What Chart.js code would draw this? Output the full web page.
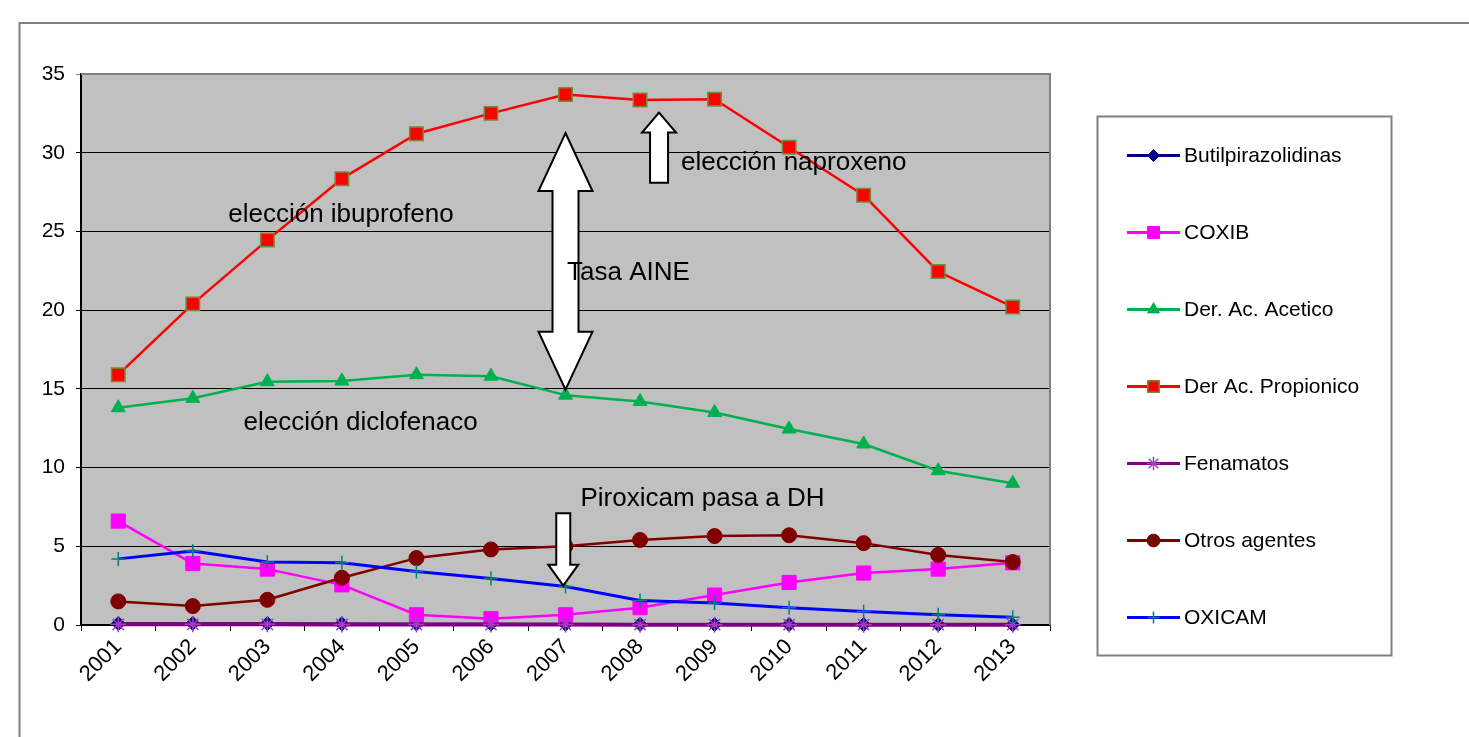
<!DOCTYPE html>
<html>
<head>
<meta charset="utf-8">
<title>Consumo de AINE por subgrupo 2001-2013</title>
<script src="https://cdn.jsdelivr.net/npm/chart.js@4.4.1/dist/chart.umd.min.js"></script>
<style>
  html, body { margin: 0; padding: 0; background: #ffffff; }
  #wrap { width: 1469px; height: 737px; position: relative; }
  canvas { display: block; }
</style>
</head>
<body>
<div id="wrap"><canvas id="chart" width="1469" height="737"></canvas></div>
<script>
// Years on the category axis
const years = ['2001','2002','2003','2004','2005','2006','2007','2008','2009','2010','2011','2012','2013'];

// Series values per year
const butilpirazolidinas = [0.09, 0.10, 0.09, 0.08, 0.07, 0.06, 0.05, 0.04, 0.03, 0.03, 0.03, 0.02, 0.02];
const coxib             = [6.6, 3.9, 3.55, 2.55, 0.65, 0.4, 0.65, 1.1, 1.9, 2.7, 3.3, 3.55, 3.95];
const derAcAcetico      = [13.8, 14.4, 15.45, 15.5, 15.9, 15.8, 14.6, 14.2, 13.5, 12.45, 11.5, 9.8, 9.0];
const derAcPropionico   = [15.9, 20.4, 24.45, 28.35, 31.2, 32.5, 33.7, 33.35, 33.4, 30.35, 27.3, 22.45, 20.2];
const fenamatos         = [0.04, 0.04, 0.04, 0.03, 0.03, 0.03, 0.03, 0.02, 0.02, 0.02, 0.02, 0.02, 0.02];
const otrosAgentes      = [1.5, 1.2, 1.6, 3.0, 4.25, 4.8, 5.0, 5.4, 5.65, 5.7, 5.2, 4.45, 4.0];
const oxicam            = [4.2, 4.7, 4.0, 3.95, 3.4, 2.95, 2.45, 1.55, 1.4, 1.1, 0.85, 0.65, 0.5];

// Value axis ticks
const yTicks = [0, 5, 10, 15, 20, 25, 30, 35];

// Annotation texts, anchored in data units (x = category index, y = value)
const notes = [
  { text: 'elección ibuprofeno',  x: 1.475, y: 26.05 },
  { text: 'elección diclofenaco', x: 1.68,  y: 12.85 },
  { text: 'Tasa AINE',            x: 6.02,  y: 22.35 },
  { text: 'elección naproxeno',   x: 7.55,  y: 29.35 },
  { text: 'Piroxicam pasa a DH',  x: 6.2,   y: 8.0 }
];

// Block arrows, anchored in data units: tail and tip values on a category position
const arrows = [
  { x: 6.0,   from: 14.95, to: 31.25, double: true,  head: 27, headLen: 58, shaft: 13 },
  { x: 7.255, from: 28.1,  to: 32.55, double: false, head: 17, headLen: 20, shaft: 9 },
  { x: 5.97,  from: 7.1,   to: 2.5,   double: false, head: 15, headLen: 21, shaft: 7 }
];

const FONT = "'Liberation Sans', Arial, Helvetica, sans-serif";

const series = [
  { label: 'Butilpirazolidinas', data: butilpirazolidinas, color: '#000080', pColor: '#000080', pBorder: '#000080', style: 'rectRot', r: 7, bw: 1, lw: 2.5 },
  { label: 'COXIB',              data: coxib,              color: '#FF00FF', pColor: '#FF00FF', pBorder: '#FF00FF', style: 'rect', r: 10, bw: 1, lw: 2.5 },
  { label: 'Der. Ac. Acetico',   data: derAcAcetico,       color: '#00B050', pColor: '#00B050', pBorder: '#00B050', style: 'triangle', r: 8, bw: 1, lw: 2.5 },
  { label: 'Der Ac. Propionico', data: derAcPropionico,    color: '#FF0000', pColor: '#FF0000', pBorder: '#6B8E3A', style: 'rect', r: 9.5, bw: 1.5, lw: 2.5 },
  { label: 'Fenamatos',          data: fenamatos,          color: '#800080', pColor: '#A040C0', pBorder: '#A040C0', style: 'star', r: 8, bw: 1.5, lw: 4 },
  { label: 'Otros agentes',      data: otrosAgentes,       color: '#800000', pColor: '#800000', pBorder: '#800000', style: 'circle', r: 7.5, bw: 1, lw: 2.5 },
  { label: 'OXICAM',             data: oxicam,             color: '#0000FF', pColor: '#008080', pBorder: '#008080', style: 'cross', r: 7, bw: 1.5, lw: 3 }
];

const datasets = series.map((s, i) => ({
  label: s.label,
  data: s.data,
  borderColor: s.color,
  backgroundColor: s.color,
  borderWidth: s.lw,
  pointStyle: s.style,
  pointRadius: s.r,
  pointHoverRadius: s.r,
  pointBackgroundColor: s.pColor,
  pointBorderColor: s.pBorder,
  pointBorderWidth: s.bw,
  tension: 0,
  fill: false,
  clip: false,
  order: series.length - i
}));

// Page frame, grey plot background and plot border
const backdrop = {
  id: 'backdrop',
  beforeDraw(chart) {
    const { ctx, chartArea: a } = chart;
    ctx.save();
    ctx.fillStyle = '#ffffff';
    ctx.fillRect(0, 0, chart.width, chart.height);
    ctx.strokeStyle = '#808080';
    ctx.lineWidth = 2;
    ctx.beginPath();
    ctx.moveTo(19.5, chart.height);
    ctx.lineTo(19.5, 23);
    ctx.lineTo(chart.width, 23);
    ctx.stroke();
    ctx.fillStyle = '#C0C0C0';
    ctx.fillRect(a.left, a.top, a.right - a.left, a.bottom - a.top);
    ctx.restore();
  },
  beforeDatasetsDraw(chart) {
    const { ctx, chartArea: a } = chart;
    ctx.save();
    ctx.strokeStyle = '#808080';
    ctx.lineWidth = 2;
    ctx.beginPath();
    ctx.moveTo(a.left, a.top);
    ctx.lineTo(a.right, a.top);
    ctx.lineTo(a.right, a.bottom);
    ctx.stroke();
    ctx.restore();
  }
};

function blockArrow(ctx, x, yTail, yTip, head, headLen, shaft, dbl) {
  const dir = yTip < yTail ? -1 : 1;
  ctx.beginPath();
  ctx.moveTo(x, yTip);
  ctx.lineTo(x + head, yTip - dir * headLen);
  ctx.lineTo(x + shaft, yTip - dir * headLen);
  if (dbl) {
    ctx.lineTo(x + shaft, yTail + dir * headLen);
    ctx.lineTo(x + head, yTail + dir * headLen);
    ctx.lineTo(x, yTail);
    ctx.lineTo(x - head, yTail + dir * headLen);
    ctx.lineTo(x - shaft, yTail + dir * headLen);
  } else {
    ctx.lineTo(x + shaft, yTail);
    ctx.lineTo(x - shaft, yTail);
  }
  ctx.lineTo(x - shaft, yTip - dir * headLen);
  ctx.lineTo(x - head, yTip - dir * headLen);
  ctx.closePath();
  ctx.fillStyle = '#ffffff';
  ctx.fill();
  ctx.strokeStyle = '#000000';
  ctx.lineWidth = 2;
  ctx.lineJoin = 'miter';
  ctx.stroke();
}

// Arrows and free text over the plot
const notesPlugin = {
  id: 'notes',
  afterDatasetsDraw(chart) {
    const { ctx } = chart;
    const xs = chart.scales.x, ys = chart.scales.y;
    const px = v => {
      const p0 = xs.getPixelForValue(0), p1 = xs.getPixelForValue(1);
      return p0 + (p1 - p0) * v;
    };
    ctx.save();
    arrows.forEach(a => {
      blockArrow(ctx, px(a.x), ys.getPixelForValue(a.from), ys.getPixelForValue(a.to), a.head, a.headLen, a.shaft, a.double);
    });
    ctx.fillStyle = '#000000';
    ctx.font = '26px ' + FONT;
    ctx.textAlign = 'left';
    ctx.textBaseline = 'middle';
    notes.forEach(n => ctx.fillText(n.text, px(n.x), ys.getPixelForValue(n.y)));
    ctx.restore();
  }
};

function drawMarker(ctx, s, x, y) {
  const opts = { pointStyle: s.style, radius: s.r, rotation: 0, borderWidth: s.bw };
  ctx.fillStyle = s.pColor;
  ctx.strokeStyle = s.pBorder;
  ctx.lineWidth = s.bw;
  Chart.helpers.drawPoint(ctx, opts, x, y);
}

// Boxed legend on the right
const boxLegend = {
  id: 'boxLegend',
  afterDraw(chart) {
    const { ctx } = chart;
    const box = { x: 1097.5, y: 116.5, w: 294, h: 539 };
    ctx.save();
    ctx.strokeStyle = '#808080';
    ctx.lineWidth = 2;
    ctx.strokeRect(box.x, box.y, box.w, box.h);
    ctx.font = '21px ' + FONT;
    ctx.textAlign = 'left';
    ctx.textBaseline = 'middle';
    series.forEach((s, i) => {
      const y = 155.5 + i * 77;
      ctx.strokeStyle = s.color;
      ctx.lineWidth = 3;
      ctx.beginPath();
      ctx.moveTo(1127, y);
      ctx.lineTo(1180, y);
      ctx.stroke();
      drawMarker(ctx, Object.assign({}, s, { r: s.r * 0.85 }), 1153.5, y);
      ctx.fillStyle = '#000000';
      ctx.fillText(s.label, 1184, y + 1);
    });
    ctx.restore();
  }
};

new Chart(document.getElementById('chart'), {
  type: 'line',
  data: { labels: years, datasets },
  options: {
    responsive: false,
    animation: false,
    devicePixelRatio: 1,
    layout: { padding: { left: 0, top: 74, right: 419, bottom: 0 } },
    plugins: {
      legend: { display: false },
      tooltip: { enabled: false },
      title: { display: false }
    },
    elements: { line: { borderCapStyle: 'butt', borderJoinStyle: 'round' } },
    scales: {
      x: {
        offset: true,
        grid: {
          offset: true,
          drawOnChartArea: false,
          drawTicks: true,
          tickLength: 6,
          color: '#000000',
          lineWidth: 1
        },
        border: { display: true, color: '#000000', width: 1.5 },
        ticks: {
          color: '#000000',
          font: { family: FONT, size: 22 },
          minRotation: 45,
          maxRotation: 45,
          padding: 3,
          autoSkip: false
        },
        afterFit(scale) { scale.height = 112; }
      },
      y: {
        min: 0,
        max: 35,
        afterBuildTicks(scale) { scale.ticks = yTicks.map(v => ({ value: v })); },
        grid: {
          color: ctx => (ctx.tick && ctx.tick.value === 35 ? '#808080' : '#000000'),
          lineWidth: 1,
          tickLength: 5,
          drawTicks: true
        },
        border: { display: true, color: '#000000', width: 2 },
        ticks: {
          color: '#000000',
          font: { family: FONT, size: 21 },
          padding: 11
        },
        afterFit(scale) { scale.width = 81; }
      }
    }
  },
  plugins: [backdrop, notesPlugin, boxLegend]
});
</script>
</body>
</html>
